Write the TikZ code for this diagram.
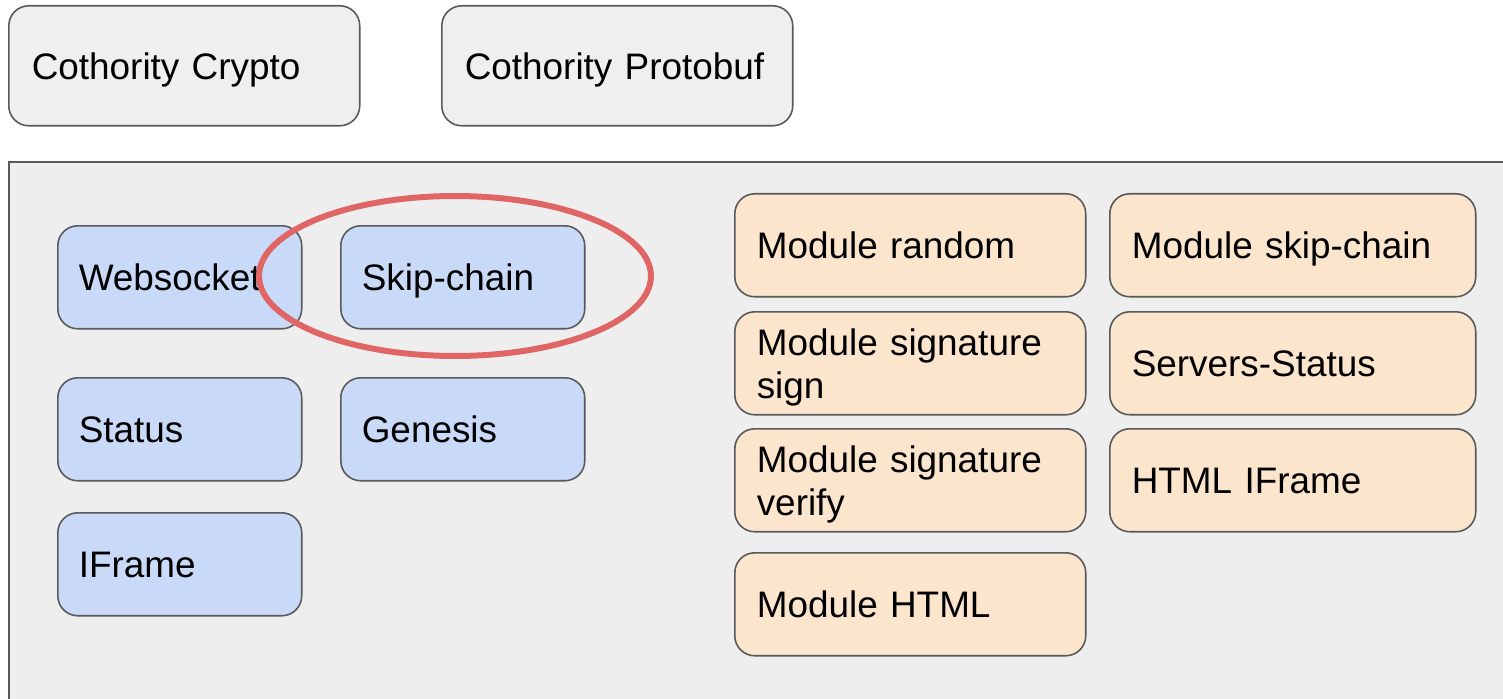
\documentclass[tikz,border=0pt]{standalone}
\usepackage{fontspec}
\setmainfont{Liberation Sans}
\definecolor{boxline}{HTML}{595959}
\definecolor{panelgray}{HTML}{EEEEEE}
\definecolor{topgray}{HTML}{EFEFEF}
\definecolor{libblue}{HTML}{C9DAF8}
\definecolor{modorange}{HTML}{FCE5CD}
\definecolor{markred}{HTML}{E06666}
\tikzset{
  box/.style={draw=boxline,line width=0.9pt,rounded corners=0.4cm,align=left,
    anchor=north west,inner ysep=0pt,minimum height=2.06cm,
    text height=15.3pt,text depth=0pt,
    font=\fontsize{21}{24.5}\selectfont},
  twoline/.style={text depth=24.3pt},
  topbox/.style={box,fill=topgray,inner xsep=0.46cm,text width=6.10cm,minimum height=2.4cm},
  libbox/.style={box,fill=libblue,inner xsep=0.42cm,text width=4.04cm},
  modbox/.style={box,fill=modorange,inner xsep=0.44cm,text width=6.14cm},
  widemodbox/.style={modbox,text width=6.44cm}
}
\begin{document}
\begin{tikzpicture}[x=0.02cm,y=-0.02cm]
  \useasboundingbox (0,0) rectangle (1503,699);
  \clip (0,0) rectangle (1503,699);
  \node[topbox] (crypto) at (8,5) {Cothority Crypto};
  \node[topbox] (protobuf) at (441,5) {Cothority Protobuf};
  \draw[draw=boxline,line width=0.9pt,fill=panelgray] (9,162) rectangle (1530,730);
  \node[libbox] (websocket) at (57,225) {Websocket};
  \node[libbox] (skipchain) at (340,225) {Skip-chain};
  \node[libbox] (status) at (57,377) {Status};
  \node[libbox] (genesis) at (340,377) {Genesis};
  \node[libbox] (iframe) at (57,512) {IFrame};
  \node[modbox] (modrandom) at (734,193) {Module random};
  \node[modbox,twoline] (modsign) at (734,311) {Module signature\\sign};
  \node[modbox,twoline] (modverify) at (734,428) {Module signature\\verify};
  \node[modbox] (modhtml) at (734,552) {Module HTML};
  \node[widemodbox] (modskipchain) at (1109,193) {Module skip-chain};
  \node[widemodbox] (serversstatus) at (1109,311) {Servers-Status};
  \node[widemodbox] (htmliframe) at (1109,428) {HTML IFrame};
  \draw[markred,line width=3.4pt] (455,276) ellipse [x radius=3.92cm,y radius=1.6cm];
\end{tikzpicture}
\end{document}
